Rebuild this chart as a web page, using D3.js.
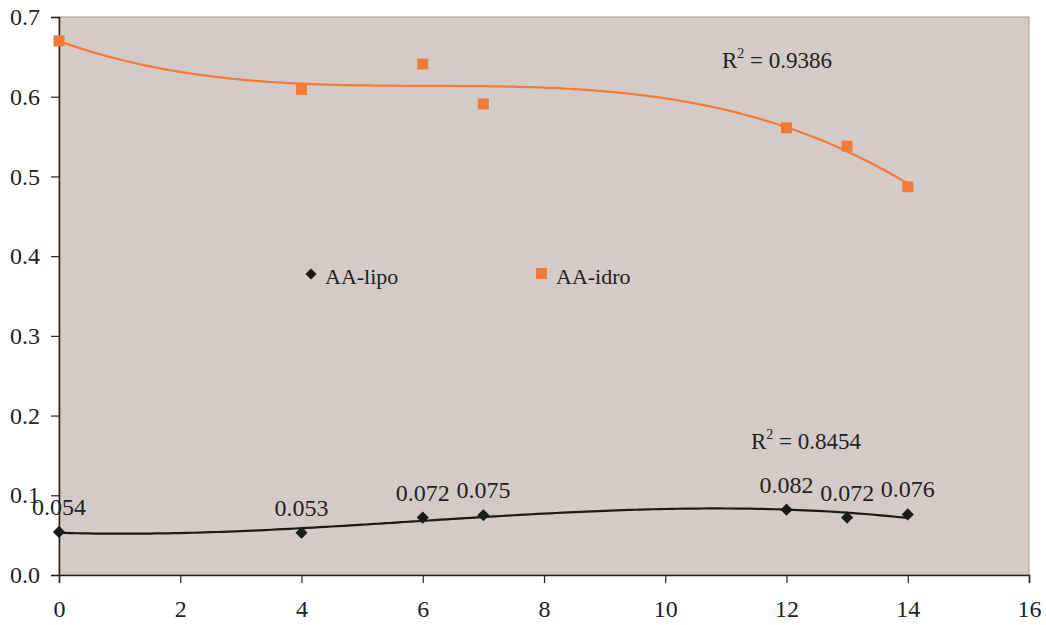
<!DOCTYPE html>
<html>
<head>
<meta charset="utf-8">
<script src="https://cdn.jsdelivr.net/npm/d3@7"></script>
<style>
  html, body { margin: 0; padding: 0; background: #fff; }
</style>
</head>
<body>
<svg id="chart" width="1046" height="625"></svg>
<script>
// Sampling days and measured values
const days = [0, 4, 6, 7, 12, 13, 14];
const lipo = [0.054, 0.053, 0.072, 0.075, 0.082, 0.072, 0.076];
const idro = [0.670, 0.609, 0.641, 0.591, 0.561, 0.538, 0.487];
const lipoLabels = ["0.054", "0.053", "0.072", "0.075", "0.082", "0.072", "0.076"];
const xTicks = [0, 2, 4, 6, 8, 10, 12, 14, 16];
const yTicks = [0, 0.1, 0.2, 0.3, 0.4, 0.5, 0.6, 0.7];
const seriesNames = ["AA-lipo", "AA-idro"];
const r2Labels = ["0.8454", "0.9386"];

const FONT = "'Liberation Serif'";
const ORANGE = "#F47A35";
const DARK = "#1a1a1a";

// Least-squares polynomial fit (normal equations, Gauss-Jordan)
function polyfit(xs, ys, order) {
  const n = order + 1;
  const A = Array.from({length: n}, () => new Array(n + 1).fill(0));
  for (let i = 0; i < xs.length; i++) {
    for (let r = 0; r < n; r++) {
      for (let c = 0; c < n; c++) A[r][c] += Math.pow(xs[i], r + c);
      A[r][n] += ys[i] * Math.pow(xs[i], r);
    }
  }
  for (let k = 0; k < n; k++) {
    let p = k;
    for (let r = k + 1; r < n; r++) if (Math.abs(A[r][k]) > Math.abs(A[p][k])) p = r;
    [A[k], A[p]] = [A[p], A[k]];
    for (let r = 0; r < n; r++) {
      if (r === k) continue;
      const f = A[r][k] / A[k][k];
      for (let c = k; c <= n; c++) A[r][c] -= f * A[k][c];
    }
  }
  return A.map((row, i) => row[n] / row[i]);
}
const evalPoly = (co, t) => co.reduce((s, c, i) => s + c * Math.pow(t, i), 0);

const svg = d3.select("#chart");
const x = d3.scaleLinear().domain([0, 16]).range([59, 1029]);
const y = d3.scaleLinear().domain([0, 0.7]).range([575, 17]);

// Plot area
svg.append("rect")
  .attr("x", x(0)).attr("y", y(0.7))
  .attr("width", x(16) - x(0)).attr("height", y(0) - y(0.7))
  .attr("fill", "#D3CBC8").attr("stroke", "#A39B97").attr("stroke-width", 1);

// Axes
const xAxis = svg.append("g").attr("transform", `translate(0,${y(0)})`)
  .call(d3.axisBottom(x).tickValues(xTicks).tickSize(8).tickPadding(17).tickFormat(d3.format("d")));
const yAxis = svg.append("g").attr("transform", `translate(${x(0)},0)`)
  .call(d3.axisLeft(y).tickValues(yTicks).tickSize(8).tickPadding(11).tickFormat(d3.format(".1f")));
[xAxis, yAxis].forEach(g => {
  g.attr("font-family", null).attr("font-size", null);
  g.select(".domain").attr("stroke", "#222").attr("stroke-width", 1.5);
  g.selectAll(".tick line").attr("stroke", "#222").attr("stroke-width", 1.2);
  g.selectAll(".tick text").attr("fill", "#222")
    .style("font-family", FONT).style("font-size", "24px");
});

// Cubic trendlines
const line = d3.line().x(d => x(d[0])).y(d => y(d[1])).curve(d3.curveMonotoneX);
[[lipo, DARK], [idro, ORANGE]].forEach(([vals, col]) => {
  const co = polyfit(days, vals, 3);
  const pts = d3.range(0, 14.001, 0.1).map(t => [t, evalPoly(co, t)]);
  svg.append("path").attr("d", line(pts)).attr("fill", "none")
    .attr("stroke", col).attr("stroke-width", 2.2);
});

// Markers
svg.append("g").selectAll("path").data(days).join("path")
  .attr("d", d3.symbol().type(d3.symbolSquare).size(74)())
  .attr("transform", (d, i) => `translate(${x(d)},${y(lipo[i])}) rotate(45)`)
  .attr("fill", DARK);
svg.append("g").selectAll("rect").data(days).join("rect")
  .attr("x", d => x(d) - 5.5).attr("y", (d, i) => y(idro[i]) - 5.5)
  .attr("width", 11).attr("height", 11).attr("fill", ORANGE);

// Value labels for AA-lipo
svg.append("g").selectAll("text").data(days).join("text")
  .attr("x", d => x(d)).attr("y", (d, i) => y(lipo[i]) - 17)
  .attr("text-anchor", "middle").attr("fill", "#222")
  .style("font-family", FONT).style("font-size", "24px")
  .text((d, i) => lipoLabels[i]);

// R² annotations
function r2Text(px, py, val) {
  const t = svg.append("text").attr("x", px).attr("y", py).attr("fill", "#222")
    .style("font-family", FONT).style("font-size", "23px");
  t.append("tspan").text("R");
  t.append("tspan").attr("dy", -10).style("font-size", "14px").text("2");
  t.append("tspan").attr("dy", 10).text(" = " + val);
}
r2Text(722, 68, r2Labels[1]);
r2Text(751, 449, r2Labels[0]);

// Legend
const lg = svg.append("g");
lg.append("path").attr("d", d3.symbol().type(d3.symbolSquare).size(62)())
  .attr("transform", "translate(311,274) rotate(45)").attr("fill", DARK);
lg.append("text").attr("x", 325).attr("y", 284).attr("fill", "#222")
  .style("font-family", FONT).style("font-size", "22px").text(seriesNames[0]);
lg.append("rect").attr("x", 536).attr("y", 268).attr("width", 11).attr("height", 11).attr("fill", ORANGE);
lg.append("text").attr("x", 556).attr("y", 284).attr("fill", "#222")
  .style("font-family", FONT).style("font-size", "22px").text(seriesNames[1]);
</script>
</body>
</html>
